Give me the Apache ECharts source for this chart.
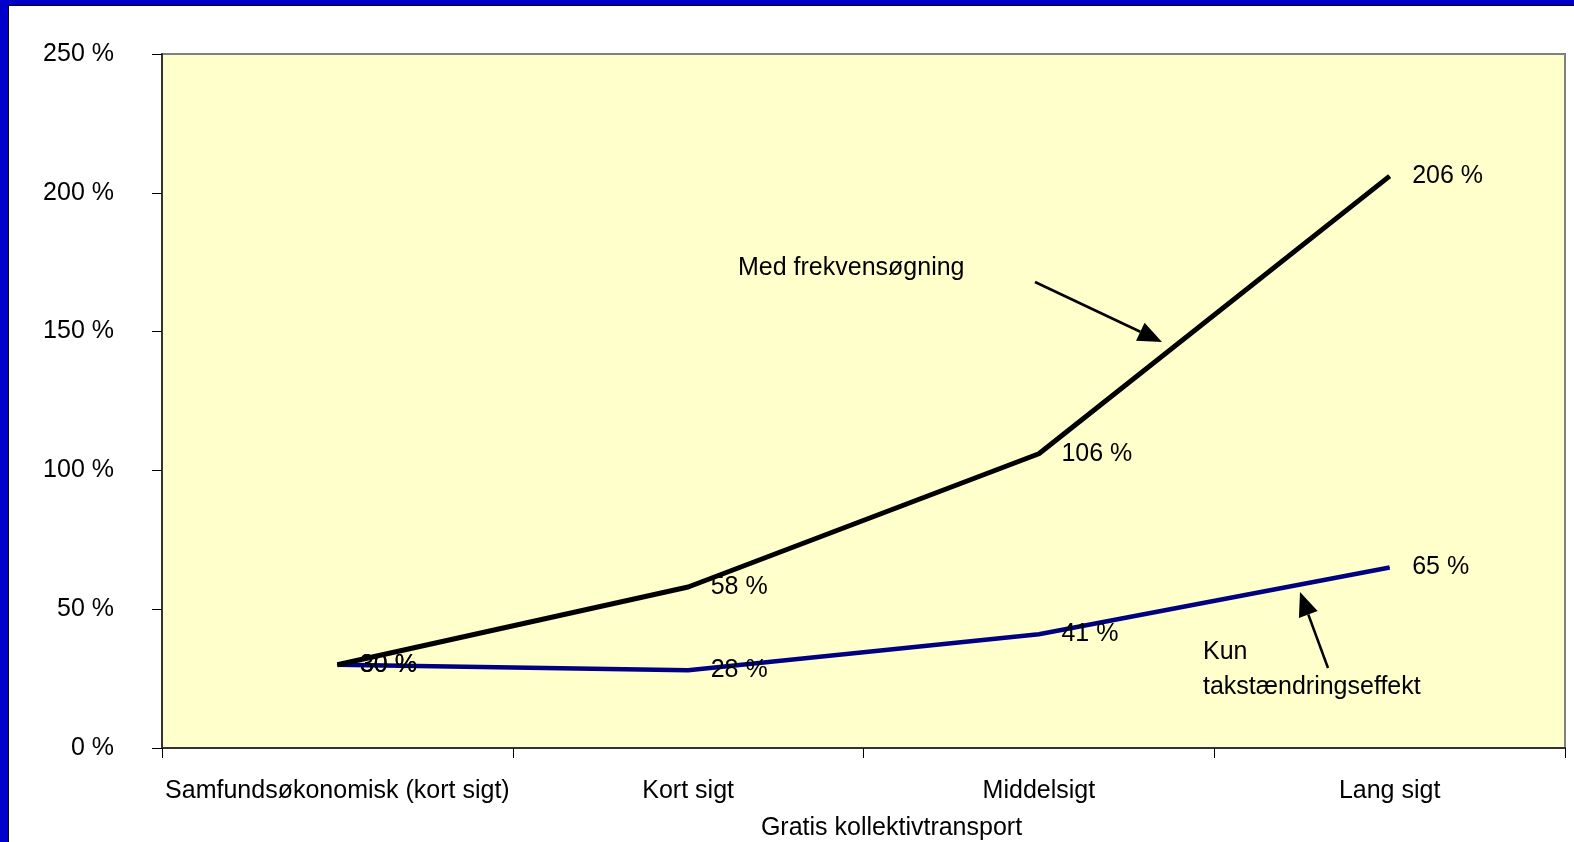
<!DOCTYPE html>
<html>
<head>
<meta charset="utf-8">
<script src="https://cdn.jsdelivr.net/npm/echarts@6/dist/echarts.min.js"></script>
<style>
  html, body { margin: 0; padding: 0; background: #0000cc; }
  #root {
    position: absolute; left: 8px; top: 5px;
    width: 1565px; height: 836px;
    background: #fff;
    border-left: 1px solid #000; border-top: 1px solid #000;
  }
</style>
</head>
<body>
<div id="root"></div>
<script>
  const categories = ["Samfundsøkonomisk (kort sigt)", "Kort sigt", "Middelsigt", "Lang sigt"];
  const medFrekvens = [30, 58, 106, 206];
  const kunTakst = [30, 28, 41, 65];
  const yTicks = [0, 50, 100, 150, 200, 250];

  const font = "Liberation Sans, Arial, sans-serif";

  // arrow from tail to tip, in pixel space of the chart
  function arrow(x1, y1, x2, y2) {
    const dx = x2 - x1, dy = y2 - y1;
    const len = Math.sqrt(dx * dx + dy * dy);
    const ux = dx / len, uy = dy / len;
    const hl = 24, hw = 10;
    const bx = x2 - ux * hl, by = y2 - uy * hl;
    return {
      type: "group",
      children: [
        { type: "line", shape: { x1: x1, y1: y1, x2: bx, y2: by }, style: { stroke: "#000", lineWidth: 2.5 } },
        {
          type: "polygon",
          shape: { points: [[x2, y2], [bx - uy * hw, by + ux * hw], [bx + uy * hw, by - ux * hw]] },
          style: { fill: "#000" },
        },
      ],
    };
  }

  const pctLabel = {
    show: true,
    position: "right",
    distance: 22,
    formatter: "{c} %",
    fontSize: 25,
    color: "#000",
    fontFamily: font,
  };

  var MyChart = echarts.init(document.getElementById("root"));
  var option = {
    animation: false,
    textStyle: { fontFamily: font },
    grid: {
      left: 153,
      top: 48,
      right: 9,
      bottom: 94,
      outerBoundsMode: "none",
      show: true,
      backgroundColor: "#ffffcc",
      borderColor: "#808080",
      borderWidth: 2,
    },
    xAxis: {
      type: "category",
      data: categories,
      boundaryGap: true,
      name: "Gratis kollektivtransport",
      nameLocation: "middle",
      nameGap: 68,
      nameTextStyle: { fontSize: 25, color: "#000", fontFamily: font, padding: [0, 0, 0, 56] },
      axisLine: { lineStyle: { color: "#333", width: 2 } },
      axisTick: { show: true, length: 10, lineStyle: { color: "#000", width: 1 } },
      axisLabel: { fontSize: 25, color: "#000", margin: 31, interval: 0, fontFamily: font },
      splitLine: { show: false },
    },
    yAxis: {
      type: "value",
      min: yTicks[0],
      max: yTicks[yTicks.length - 1],
      interval: 50,
      axisLine: { show: true, lineStyle: { color: "#333", width: 2 } },
      axisTick: { show: true, length: 10, lineStyle: { color: "#000", width: 1 } },
      axisLabel: { fontSize: 25, color: "#000", margin: 48, formatter: "{value} %", fontFamily: font },
      splitLine: { show: false },
    },
    series: [
      {
        name: "Kun takstændringseffekt",
        type: "line",
        data: kunTakst,
        symbol: "circle",
        symbolSize: 1,
        itemStyle: { color: "#000080" },
        lineStyle: { color: "#000080", width: 4.5 },
        label: pctLabel,
      },
      {
        name: "Med frekvensøgning",
        type: "line",
        data: medFrekvens,
        symbol: "circle",
        symbolSize: 1,
        itemStyle: { color: "#000" },
        lineStyle: { color: "#000", width: 5 },
        label: pctLabel,
      },
    ],
    graphic: [
      {
        type: "text",
        left: 729,
        top: 250,
        style: { text: "Med frekvensøgning", fill: "#000", font: "25px " + font },
      },
      {
        type: "text",
        left: 1194,
        top: 629,
        style: { text: "Kun\ntakstændringseffekt", lineHeight: 35, fill: "#000", font: "25px " + font },
      },
      arrow(1026, 276, 1153, 336),
      arrow(1319, 662, 1291, 586),
    ],
  };
  MyChart.setOption(option);
</script>
</body>
</html>
